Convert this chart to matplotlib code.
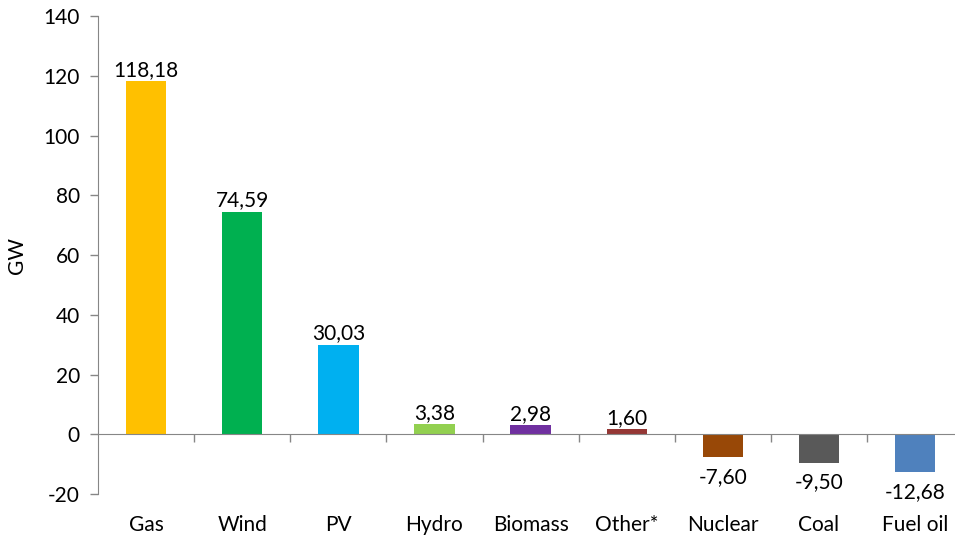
import matplotlib.pyplot as plt

# Net capacity change by technology
categories = ['Gas', 'Wind', 'PV', 'Hydro', 'Biomass', 'Other*', 'Nuclear', 'Coal', 'Fuel oil']
values = [118.18, 74.59, 30.03, 3.38, 2.98, 1.60, -7.60, -9.50, -12.68]
colors = ['#FFC000', '#00B050', '#00B0F0', '#92D050', '#7030A0',
          '#953735', '#984807', '#595959', '#4F81BD']
y_ticks = [-20, 0, 20, 40, 60, 80, 100, 120, 140]

plt.rcParams['font.family'] = ['Lato', 'DejaVu Sans']
axis_color = '#868686'
fs = 15

fig = plt.figure(figsize=(9.55, 5.39), dpi=100)
ax = fig.add_axes([0.1026, 0.0835, 0.906, 0.8865])

x = list(range(len(categories)))
ax.bar(x, values, width=0.42, color=colors, zorder=1)

for xi, v in zip(x, values):
    label = '{:.2f}'.format(v).replace('.', ',')
    if v >= 0:
        ax.annotate(label, (xi, v), xytext=(0, 1), textcoords='offset points',
                    ha='center', va='bottom', fontsize=fs)
    else:
        ax.annotate(label, (xi, v), xytext=(0, -7), textcoords='offset points',
                    ha='center', va='top', fontsize=fs)

ax.set_xlim(-0.5, len(categories) - 0.5)
ax.set_ylim(-20, 140)
ax.set_yticks(y_ticks)
ax.set_yticklabels([str(t) for t in y_ticks], fontsize=fs)
ax.set_ylabel('GW', fontsize=fs, labelpad=12)

# x-axis line at zero, tick marks between categories
ax.spines['bottom'].set_position(('data', 0))
ax.spines['bottom'].set_color(axis_color)
ax.spines['left'].set_color(axis_color)
ax.spines['bottom'].set_zorder(3)
for s in ['top', 'right']:
    ax.spines[s].set_visible(False)
ax.set_xticks([i + 0.5 for i in x])
ax.set_xticklabels([])
ax.tick_params(axis='x', direction='out', length=6, color=axis_color, width=1)
ax.tick_params(axis='y', direction='out', length=6, color=axis_color, width=1, pad=7)

# category labels below plot area
for xi, c in zip(x, categories):
    ax.text(xi, -0.065, c, transform=ax.get_xaxis_transform(),
            ha='center', va='center', fontsize=fs)

fig.savefig('out.png', dpi=100)
